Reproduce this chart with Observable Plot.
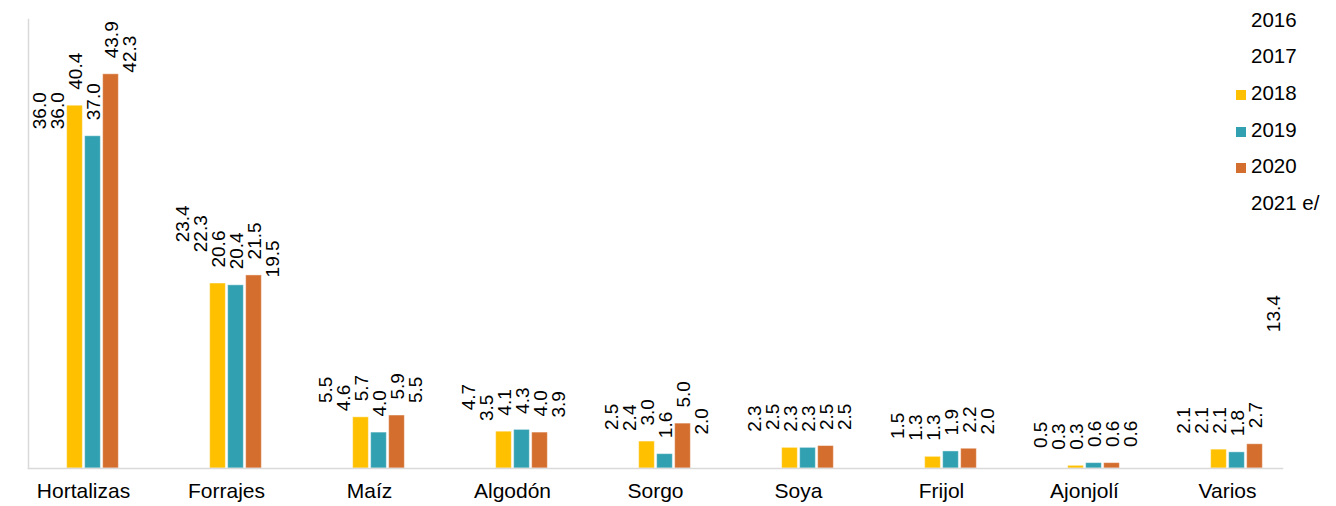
<!DOCTYPE html>
<html><head><meta charset="utf-8">
<script src="https://cdn.jsdelivr.net/npm/d3@7"></script>
<script src="https://cdn.jsdelivr.net/npm/@observablehq/plot@0.6"></script>
<style>
body{margin:0;background:#fff;}
#wrap{position:relative;width:1336px;height:506px;font-family:"Liberation Sans",Arial,sans-serif;}
#legend{position:absolute;left:1236px;top:0;}
.item{position:absolute;left:0;white-space:nowrap;font-size:20.5px;line-height:20px;color:#000;}
.sw{display:inline-block;width:10px;height:10px;margin-right:5px;vertical-align:0px;}
</style></head><body><div id="wrap"></div>
<script>
const categories = ["Hortalizas","Forrajes","Maíz","Algodón","Sorgo","Soya","Frijol","Ajonjolí","Varios"];
const years = ["2016","2017","2018","2019","2020","2021 e/"];
const v2016 = [36.0, 23.4, 5.5, 4.7, 2.5, 2.3, 1.5, 0.5, 2.1];
const v2017 = [36.0, 22.3, 4.6, 3.5, 2.4, 2.5, 1.3, 0.3, 2.1];
const v2018 = [40.4, 20.6, 5.7, 4.1, 3.0, 2.3, 1.3, 0.3, 2.1];
const v2019 = [37.0, 20.4, 4.0, 4.3, 1.6, 2.3, 1.9, 0.6, 1.8];
const v2020 = [43.9, 21.5, 5.9, 4.0, 5.0, 2.5, 2.2, 0.6, 2.7];
const v2021 = [42.3, 19.5, 5.5, 3.9, 2.0, 2.5, 2.0, 0.6, 13.4];
const shownYears = ["2018","2019","2020"];
const barColors = ["#FFC000","#31A0B0","#D46E2E"];

const series = [v2016, v2017, v2018, v2019, v2020, v2021];
const rows = [];
categories.forEach((c, i) => years.forEach((y, j) => rows.push({cat: c, year: y, value: series[j][i]})));

const font = '"Liberation Sans", Arial, sans-serif';
const chart = Plot.plot({
  width: 1336, height: 506,
  marginLeft: 9.5, marginRight: 36, marginTop: 19, marginBottom: 38,
  style: {fontFamily: font, fontSize: "21px", color: "#000", background: "#fff"},
  fx: {domain: categories, paddingInner: 0.233, paddingOuter: 0.1165, label: null, axis: "bottom", tickSize: 0, tickPadding: 15},
  x: {domain: years, padding: 0, axis: null},
  y: {domain: [0, 50], axis: null},
  color: {domain: shownYears, range: barColors},
  marks: [
    Plot.barY(rows.filter(d => shownYears.includes(d.year)), {fx: "cat", x: "year", y: "value", fill: "year", insetLeft: 1.15, insetRight: 1.15, stroke: "#fff", strokeOpacity: 0.45, strokeWidth: 1}),
    Plot.text(rows, {fx: "cat", x: "year", y: "value", text: d => d.value.toFixed(1), rotate: -90, textAnchor: "start", dy: -16, dx: 1, fontSize: 19, fill: "#000"}),
    Plot.frame({anchor: "bottom", facet: "super", stroke: "#d9d9d9", strokeWidth: 1.5}),
    Plot.frame({anchor: "left", facet: "super", stroke: "#d9d9d9", strokeWidth: 1.5})
  ]
});
const wrap = document.getElementById("wrap");
wrap.appendChild(chart);

const legend = document.createElement("div");
legend.id = "legend";
years.forEach((y, j) => {
  const it = document.createElement("div");
  it.className = "item";
  it.style.top = (9.5 + j * 36.7) + "px";
  const k = shownYears.indexOf(y);
  const sw = document.createElement("span");
  sw.className = "sw";
  sw.style.background = k >= 0 ? barColors[k] : "transparent";
  it.appendChild(sw);
  it.appendChild(document.createTextNode(y));
  legend.appendChild(it);
});
wrap.appendChild(legend);
</script></body></html>
